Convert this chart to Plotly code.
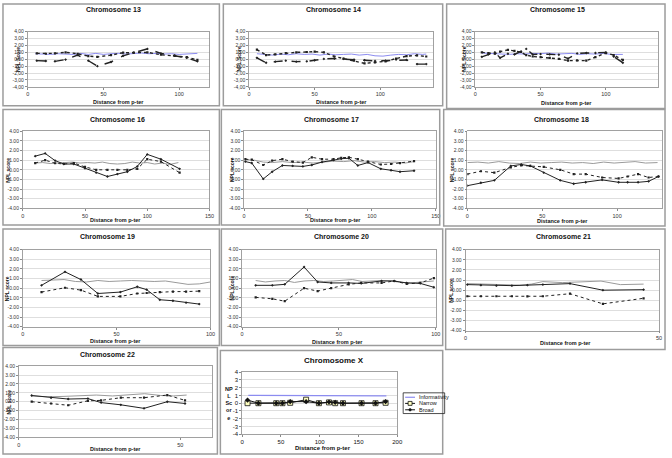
import plotly.graph_objects as go

W, H = 672, 458

# ---------------- data ----------------
y_tick_vals = [-4, -3, -2, -1, 0, 1, 2, 3, 4]
y_text_comma = ["-4,00", "-3,00", "-2,00", "-1,00", "0,00", "1,00", "2,00", "3,00", "4,00"]
y_text_dot = ["-4.00", "-3.00", "-2.00", "-1.00", "0.00", "1.00", "2.00", "3.00", "4.00"]
y_text_int = ["-4", "-3", "-2", "-1", "0", "1", "2", "3", "4"]

chr13_info_x = [5, 10, 15, 20, 25, 30, 35, 40, 45, 50, 55, 60, 65, 70, 75, 80, 85, 90, 95, 100, 105, 112]
chr13_info = [0.8, 0.75, 0.7, 0.8, 0.75, 0.7, 0.85, 0.7, 0.85, 0.7, 0.8, 0.85, 0.75, 0.8, 0.9, 0.8, 0.85, 0.75, 0.8, 0.7, 0.75, 0.85]
chr13_x = [6, 12, 18, 25, 33, 40, 46, 55, 63, 70, 79, 88, 97, 105, 112]
chr13_narrow = [0.85, 0.8, 0.85, 1.0, 0.8, 0.45, 0.35, 0.6, 0.95, 0.95, 1.0, 0.65, 0.5, 0.3, -0.1]
chr13_broad = [-0.2, -0.25, -0.3, -0.05, 0.6, -0.2, -1.0, -0.4, 0.5, 0.95, 1.5, 0.85, 0.55, 0.2, -0.3]

chr14_info_x = [6, 12, 18, 24, 30, 36, 42, 48, 54, 60, 66, 72, 78, 84, 90, 96, 102, 108, 114, 120, 126, 132, 135]
chr14_info = [0.8, 0.7, 0.6, 0.75, 0.65, 0.8, 0.7, 0.75, 0.6, 0.75, 0.65, 0.7, 0.75, 0.6, 0.7, 0.5, 0.45, 0.6, 0.7, 0.65, 0.8, 0.7, 0.75]
chr14_x = [6, 13, 20, 28, 36, 44, 50, 57, 65, 72, 80, 88, 96, 104, 112, 120, 128, 135]
chr14_narrow = [1.4, 0.6, 0.7, 0.9, 1.0, 1.05, 1.1, 1.0, 0.4, 0.1, -0.2, -0.6, -0.45, -0.3, 0.1, 0.45, 0.55, 0.4]
chr14_broad = [0.2, -0.5, -0.35, -0.2, -0.35, -0.3, -0.15, 0.05, 0.1, 0.05, -0.05, -0.15, -0.25, -0.2, -0.05, -0.1, -0.7, -0.7]

chr15_info_x = [5, 10, 15, 20, 26, 32, 38, 44, 50, 56, 62, 68, 74, 80, 86, 92, 98, 104, 110, 113]
chr15_info = [0.9, 0.85, 0.75, 0.8, 0.7, 0.8, 0.75, 0.85, 0.8, 0.9, 0.75, 0.8, 0.85, 0.7, 0.8, 0.75, 0.85, 0.7, 0.75, 0.7]
chr15_x = [5, 10, 15, 19, 25, 30, 35, 39, 44, 50, 57, 64, 71, 78, 85, 92, 100, 106, 113]
chr15_broad = [0.35, 0.7, 1.0, 0.2, 0.8, 0.7, 1.1, 1.5, 0.7, 0.75, 0.7, 0.65, 0.1, 0.85, 0.9, 0.9, 1.0, 0.4, -0.5]
chr15_narrow = [1.0, 0.9, 0.8, 1.1, 1.35, 1.2, 1.05, 0.6, 0.4, 0.3, 0.2, 0.05, -0.2, -0.15, -0.2, 0.3, 0.9, 0.6, -0.1]

chr16_info_x = [10, 16, 22, 28, 34, 40, 46, 52, 58, 64, 70, 76, 82, 88, 94, 100, 106, 112, 118, 125]
chr16_info = [0.7, 0.75, 0.65, 0.7, 0.75, 0.8, 0.7, 0.75, 0.7, 0.8, 0.65, 0.6, 0.65, 0.8, 0.7, 0.75, 0.6, 0.7, 0.55, 0.75]
chr16_x = [10, 18, 26, 33, 41, 50, 59, 68, 76, 84, 92, 100, 111, 126]
chr16_broad = [1.42, 1.7, 0.95, 0.6, 0.6, 0.15, -0.3, -0.7, -0.45, -0.2, 0.35, 1.6, 1.1, 0.1]
chr16_narrow = [0.7, 1.0, 0.68, 0.6, 0.7, 0.3, 0.0, 0.0, 0.0, 0.0, 0.1, 1.1, 0.85, -0.3]

chr17_info_x = [1, 8, 15, 22, 30, 38, 46, 54, 62, 70, 78, 86, 94, 102, 110, 118, 126, 133]
chr17_info = [1.05, 1.0, 0.8, 0.75, 0.85, 0.75, 0.8, 0.7, 0.8, 0.9, 0.85, 0.95, 0.8, 0.85, 0.75, 0.8, 0.7, 0.85]
chr17_x = [1, 6, 15, 22, 30, 38, 46, 53, 61, 70, 76, 82, 89, 97, 107, 115, 122, 133]
chr17_broad = [0.85, 0.7, -0.95, -0.2, 0.45, 0.4, 0.35, 0.5, 0.8, 1.0, 1.15, 1.2, 0.45, 0.75, 0.1, -0.05, -0.2, -0.1]
chr17_narrow = [1.1, 1.05, 0.5, 0.95, 1.1, 0.85, 0.75, 1.3, 1.1, 1.1, 1.25, 1.3, 1.1, 0.85, 0.55, 0.6, 0.7, 0.9]

chr18_info_x = [0, 7, 14, 21, 28, 35, 42, 49, 56, 63, 70, 77, 84, 91, 98, 105, 112, 119, 127]
chr18_info = [0.75, 0.8, 0.7, 0.85, 0.7, 0.65, 0.8, 0.7, 0.75, 0.8, 0.7, 0.75, 0.65, 0.8, 0.7, 0.75, 0.85, 0.7, 0.75]
chr18_x = [0, 9, 18, 29, 36, 42, 51, 62, 71, 79, 90, 101, 107, 114, 121, 127.6]
chr18_narrow = [-0.45, -0.15, -0.3, 0.25, 0.45, 0.4, 0.3, 0.0, -0.45, -0.45, -0.8, -0.9, -0.7, -0.45, -0.8, -0.7]
chr18_broad = [-1.65, -1.35, -1.1, 0.4, 0.55, 0.4, -0.3, -1.1, -1.45, -1.3, -1.05, -1.3, -1.3, -1.3, -1.2, -0.7]

chr19_info_x = [10, 16, 22, 28, 34, 40, 46, 52, 58, 64, 70, 76, 82, 88, 94, 100]
chr19_info = [0.8, 0.85, 0.9, 0.7, 0.65, 0.8, 0.7, 0.75, 0.8, 0.75, 0.7, 0.75, 0.55, 0.4, 0.45, 0.65]
chr19_x = [10, 22.5, 31, 40, 52, 61, 66, 73, 80, 87, 94]
chr19_broad = [0.3, 1.7, 0.9, -0.55, -0.4, 0.15, -0.15, -1.2, -1.3, -1.5, -1.65]
chr19_narrow = [-0.4, 0.05, -0.2, -0.85, -0.85, -0.55, -0.5, -0.4, -0.35, -0.35, -0.3]

chr20_info_x = [7, 12, 17, 22, 27, 32, 37, 42, 47, 52, 57, 62, 67, 72, 77, 82, 87, 92, 99]
chr20_info = [0.8, 0.65, 0.75, 0.8, 0.6, 0.75, 0.8, 0.7, 0.75, 0.8, 0.9, 0.7, 0.75, 0.8, 0.75, 0.6, 0.55, 0.65, 0.75]
chr20_x = [7, 15.6, 22, 32, 39, 46, 55, 61.5, 72, 78.5, 85, 92, 99]
chr20_broad = [0.3, 0.3, 0.4, 2.2, 0.65, 0.55, 0.55, 0.5, 0.75, 0.75, 0.55, 0.5, 0.1]
chr20_narrow = [-0.95, -1.1, -1.35, 0.0, -0.3, 0.0, 0.4, 0.55, 0.55, 0.75, 0.45, 0.55, 1.05]

chr21_info_x = [0.5, 5, 10, 14, 17, 20, 25, 30, 35, 40, 46]
chr21_info = [0.65, 0.6, 0.5, 0.5, 0.6, 0.85, 0.75, 0.85, 0.9, 0.55, 0.6]
chr21_x = [0.5, 4, 8, 12, 16, 20, 27, 35.5, 46]
chr21_broad = [0.55, 0.5, 0.45, 0.45, 0.5, 0.55, 0.65, 0.0, 0.05]
chr21_narrow = [-0.6, -0.6, -0.6, -0.6, -0.62, -0.6, -0.35, -1.35, -0.8]

chr22_info_x = [4, 9, 14, 19, 24, 29, 34, 39, 44, 48, 52]
chr22_info = [0.65, 0.55, 0.6, 0.7, 0.75, 0.65, 0.75, 0.9, 0.7, 0.65, 0.75]
chr22_x = [4, 10, 15.3, 21.4, 25.5, 31.6, 38.8, 46, 51.5]
chr22_broad = [0.7, 0.45, 0.3, 0.35, -0.1, -0.35, -0.75, 0.0, -0.2]
chr22_narrow = [0.0, -0.2, -0.4, 0.1, 0.15, 0.45, 0.45, 0.75, 0.15]

chrX_info_x = [8, 30, 60, 90, 120, 150, 186]
chrX_info = [1.0, 1.0, 0.95, 1.0, 0.95, 1.0, 0.95]
chrX_x = [7, 21, 44, 52, 62, 82.5, 99, 112, 120, 130, 154, 172, 185]
chrX_narrow = [0.0, 0.0, 0.0, 0.0, 0.05, 0.45, 0.0, 0.1, 0.0, 0.0, 0.0, 0.0, 0.05]
chrX_broad = [0.4, 0.0, 0.0, 0.0, 0.2, 0.2, 0.0, 0.15, 0.1, 0.0, 0.0, 0.0, 0.2]

legend_labels = ["Informativity", "Narrow", "Broad"]

# ---------------- layout geometry (pixels) ----------------
FONT = "Arial, Liberation Sans, sans-serif"
BLUE = "#8c8cf0"
GREY = "#9a9a9a"

panels = [
    dict(title="Chromosome 13", d="13", xr=[0, 120], xt=[0, 50, 100], yt=y_text_comma,
         box=(26, 210, 29, 85), t=(113, 7), xl=(118, 100), yl=16, ic=BLUE, fr=(1, 220, 1, 104), ytl="NPL Score", row1=True),
    dict(title="Chromosome 14", d="14", xr=[0, 140], xt=[0, 50, 100], yt=y_text_comma,
         box=(250, 436, 29, 85), t=(335, 7), xl=(344, 100), yl=240, ic=BLUE, fr=(224, 446, 1, 104), ytl="NPL Score", row1=True),
    dict(title="Chromosome 15", d="15", xr=[0, 140], xt=[0, 50, 100], yt=y_text_comma,
         box=(479, 664, 29, 85), t=(562, 7), xl=(571, 101), yl=468, ic=BLUE, fr=(450, 671, 1, 107), ytl="NPL Score", row1=True),
    dict(title="Chromosome 16", d="16", xr=[0, 150], xt=[0, 50, 100, 150], yt=y_text_dot,
         box=(21, 210, 130, 208), t=(117, 118), xl=(115, 220), yl=6, ic=GREY, fr=(1, 220, 108, 225), ytl="NPL score", row1=False),
    dict(title="Chromosome 17", d="17", xr=[0, 150], xt=[0, 50, 100, 150], yt=y_text_dot,
         box=(245, 439, 130, 208), t=(333, 118), xl=(338, 220), yl=233, ic=GREY, fr=(222, 443, 108, 225), ytl="NPL score", row1=False),
    dict(title="Chromosome 18", d="18", xr=[0, 130], xt=[0, 50, 100], yt=y_text_dot,
         box=(471, 668, 130, 208), t=(566, 118), xl=(567, 221), yl=455, ic=GREY, fr=(447, 671, 108, 226), ytl="NPL score", row1=False),
    dict(title="Chromosome 19", d="19", xr=[0, 100], xt=[0, 50, 100], yt=y_text_dot,
         box=(21, 211, 250, 328), t=(107, 237), xl=(115, 342), yl=5, ic=GREY, fr=(1, 220, 229, 347), ytl="NPL score", row1=False),
    dict(title="Chromosome 20", d="20", xr=[0, 100], xt=[0, 50, 100], yt=y_text_dot,
         box=(243, 439, 250, 328), t=(344, 237), xl=(340, 343), yl=233, ic=GREY, fr=(222, 446, 229, 347), ytl="NPL score", row1=False),
    dict(title="Chromosome 21", d="21", xr=[0, 50], xt=[0, 50], yt=y_text_dot,
         box=(469, 665, 250, 332), t=(568, 237), xl=(570, 345), yl=455, ic=GREY, fr=(449, 671, 229, 351), ytl="NPL score", row1=False),
    dict(title="Chromosome 22", d="22", xr=[0, 60], xt=[0, 50], yt=y_text_dot,
         box=(17, 213, 368, 440), t=(107, 356), xl=(115, 452), yl=7, ic=GREY, fr=(1, 218, 349, 457), ytl="NPL score", row1=False),
]

data_map = {
    "13": (chr13_info_x, chr13_info, chr13_x, chr13_narrow, chr13_broad),
    "14": (chr14_info_x, chr14_info, chr14_x, chr14_narrow, chr14_broad),
    "15": (chr15_info_x, chr15_info, chr15_x, chr15_narrow, chr15_broad),
    "16": (chr16_info_x, chr16_info, chr16_x, chr16_narrow, chr16_broad),
    "17": (chr17_info_x, chr17_info, chr17_x, chr17_narrow, chr17_broad),
    "18": (chr18_info_x, chr18_info, chr18_x, chr18_narrow, chr18_broad),
    "19": (chr19_info_x, chr19_info, chr19_x, chr19_narrow, chr19_broad),
    "20": (chr20_info_x, chr20_info, chr20_x, chr20_narrow, chr20_broad),
    "21": (chr21_info_x, chr21_info, chr21_x, chr21_narrow, chr21_broad),
    "22": (chr22_info_x, chr22_info, chr22_x, chr22_narrow, chr22_broad),
}


def fx(p):
    return p / W


def fy(p):
    return 1 - p / H


fig = go.Figure()
shapes = []
annots = []
layout_axes = {}


def axis_names(i):
    s = "" if i == 1 else str(i)
    return "x" + s, "y" + s, "xaxis" + s, "yaxis" + s


for i, p in enumerate(panels, start=1):
    xr_, yr_, xa, ya = axis_names(i)
    ix, iy, dx, dn, db = data_map[p["d"]]
    lw = 1.4 if p["row1"] else 1.0
    fig.add_trace(go.Scatter(x=ix, y=iy, mode="lines", xaxis=xr_, yaxis=yr_,
                             line=dict(color=p["ic"], width=1), showlegend=False, hoverinfo="skip"))
    fig.add_trace(go.Scatter(x=dx, y=dn, mode="lines+markers", xaxis=xr_, yaxis=yr_,
                             line=dict(color="#222222", width=lw, dash="dot"),
                             marker=dict(size=2.2, color="#222222", symbol="square"),
                             showlegend=False, hoverinfo="skip"))
    fig.add_trace(go.Scatter(x=dx, y=db, mode="lines+markers", xaxis=xr_, yaxis=yr_,
                             line=dict(color="#222222", width=lw, dash="dash" if p["row1"] else "solid"),
                             marker=dict(size=2.2, color="#222222", symbol="diamond"),
                             showlegend=False, hoverinfo="skip"))
    x0, x1, y0, y1 = p["box"]
    layout_axes[xa] = dict(domain=[fx(x0), fx(x1)], anchor=yr_, range=p["xr"], tickvals=p["xt"],
                           ticktext=[str(v) for v in p["xt"]], tickfont=dict(size=5.5, family=FONT, color="#333"),
                           showgrid=False, zeroline=False, showline=True, mirror=True, linecolor="#8a8a8a",
                           linewidth=0.8, ticks="outside", ticklen=2, tickcolor="#8a8a8a", fixedrange=True,
                           ticklabeloverflow="allow")
    layout_axes[ya] = dict(domain=[fy(y1), fy(y0)], anchor=xr_, range=[-4, 4], tickvals=y_tick_vals,
                           ticktext=p["yt"], tickfont=dict(size=5, family=FONT, color="#333"),
                           showgrid=True, gridcolor="#c8c8c8", gridwidth=0.6, zeroline=False,
                           showline=True, mirror=True, linecolor="#8a8a8a", linewidth=0.8,
                           ticks="outside", ticklen=2, tickcolor="#8a8a8a", fixedrange=True)
    annots.append(dict(x=fx(p["t"][0]), y=fy(p["t"][1]), xref="paper", yref="paper", text="<b>" + p["title"] + "</b>",
                       showarrow=False, font=dict(size=7, family=FONT, color="#111"), xanchor="center", yanchor="middle"))
    annots.append(dict(x=fx(p["xl"][0]), y=fy(p["xl"][1]), xref="paper", yref="paper", text="<b>Distance from p-ter</b>",
                       showarrow=False, font=dict(size=5.5, family=FONT, color="#111"), xanchor="center", yanchor="middle"))
    annots.append(dict(x=fx(p["yl"]), y=fy((y0 + y1) / 2), xref="paper", yref="paper", text="<b>" + p["ytl"] + "</b>",
                       textangle=-90, showarrow=False, font=dict(size=5, family=FONT, color="#111"),
                       xanchor="center", yanchor="middle"))
    fx0, fx1, fy0, fy1 = p["fr"]
    shapes.append(dict(type="rect", xref="paper", yref="paper", x0=fx(fx0), x1=fx(fx1), y0=fy(fy1), y1=fy(fy0),
                       line=dict(color="#9c9c9c", width=1.5)))

# ---------------- Chromosome X ----------------
i = len(panels) + 1
xr_, yr_, xa, ya = axis_names(i)
fig.add_trace(go.Scatter(x=chrX_info_x, y=chrX_info, mode="lines", xaxis=xr_, yaxis=yr_,
                         line=dict(color=BLUE, width=1.2), showlegend=False, hoverinfo="skip"))
fig.add_trace(go.Scatter(x=chrX_x, y=chrX_narrow, mode="lines+markers", xaxis=xr_, yaxis=yr_,
                         line=dict(color="#111", width=1),
                         marker=dict(size=5, color="#ffffc0", symbol="square", line=dict(color="#111", width=0.8)),
                         showlegend=False, hoverinfo="skip"))
fig.add_trace(go.Scatter(x=chrX_x, y=chrX_broad, mode="lines+markers", xaxis=xr_, yaxis=yr_,
                         line=dict(color="#111", width=1),
                         marker=dict(size=4, color="#111", symbol="diamond"),
                         showlegend=False, hoverinfo="skip"))
X0, X1, Y0, Y1 = 243, 400, 374, 437
layout_axes[xa] = dict(domain=[fx(X0), fx(X1)], anchor=yr_, range=[0, 200], tickvals=[0, 50, 100, 150, 200],
                       ticktext=["0", "50", "100", "150", "200"], tickfont=dict(size=6, family=FONT, color="#111"),
                       showgrid=False, zeroline=False, showline=True, mirror=True, linecolor="#8a8a8a",
                       linewidth=0.8, ticks="outside", ticklen=2, tickcolor="#8a8a8a", fixedrange=True)
layout_axes[ya] = dict(domain=[fy(Y1), fy(Y0)], anchor=xr_, range=[-4, 4], tickvals=y_tick_vals,
                       ticktext=y_text_int, tickfont=dict(size=6, family=FONT, color="#111"),
                       showgrid=True, gridcolor="#c8c8c8", gridwidth=0.6, zeroline=False,
                       showline=True, mirror=True, linecolor="#8a8a8a", linewidth=0.8,
                       ticks="outside", ticklen=2, tickcolor="#8a8a8a", fixedrange=True)
annots.append(dict(x=fx(336), y=fy(362), xref="paper", yref="paper", text="<b>Chromosome X</b>",
                   showarrow=False, font=dict(size=8, family=FONT, color="#111"), xanchor="center", yanchor="middle"))
annots.append(dict(x=fx(325), y=fy(451), xref="paper", yref="paper", text="<b>Distance from p-ter</b>",
                   showarrow=False, font=dict(size=6, family=FONT, color="#111"), xanchor="center", yanchor="middle"))
annots.append(dict(x=fx(230), y=fy(406), xref="paper", yref="paper", text="<b>NP<br>L<br>Sc<br>or<br>e</b>",
                   showarrow=False, font=dict(size=5.5, family=FONT, color="#111"), xanchor="center", yanchor="middle"))
shapes.append(dict(type="rect", xref="paper", yref="paper", x0=fx(221), x1=fx(446), y0=fy(457), y1=fy(352),
                   line=dict(color="#9c9c9c", width=1.5)))

# legend box (drawn)
shapes.append(dict(type="rect", xref="paper", yref="paper", x0=fx(406), x1=fx(448), y0=fy(416), y1=fy(395),
                   line=dict(color="#222", width=0.8)))
ly = [399.5, 405.7, 412.2]
shapes.append(dict(type="line", xref="paper", yref="paper", x0=fx(408), x1=fx(418), y0=fy(ly[0]), y1=fy(ly[0]),
                   line=dict(color=BLUE, width=1.2)))
for k in (1, 2):
    shapes.append(dict(type="line", xref="paper", yref="paper", x0=fx(408), x1=fx(418), y0=fy(ly[k]), y1=fy(ly[k]),
                       line=dict(color="#111", width=1)))
shapes.append(dict(type="rect", xref="paper", yref="paper", x0=fx(411), x1=fx(415), y0=fy(ly[1] + 2), y1=fy(ly[1] - 2),
                   line=dict(color="#111", width=0.8), fillcolor="#ffffc0"))
shapes.append(dict(type="circle", xref="paper", yref="paper", x0=fx(411.7), x1=fx(414.3), y0=fy(ly[2] + 1.3),
                   y1=fy(ly[2] - 1.3), line=dict(color="#111", width=0.5), fillcolor="#111"))
for k, lab in enumerate(legend_labels):
    annots.append(dict(x=fx(419.5), y=fy(ly[k]), xref="paper", yref="paper", text=lab, showarrow=False,
                       font=dict(size=5.5, family=FONT, color="#111"), xanchor="left", yanchor="middle"))

fig.update_layout(width=W, height=H, margin=dict(l=0, r=0, t=0, b=0), paper_bgcolor="white",
                  plot_bgcolor="white", showlegend=False, shapes=shapes, annotations=annots, **layout_axes)

fig.write_html("out.html", config={"displayModeBar": False, "staticPlot": True},
               post_script="document.body.style.margin='0';document.body.style.overflow='hidden';")
